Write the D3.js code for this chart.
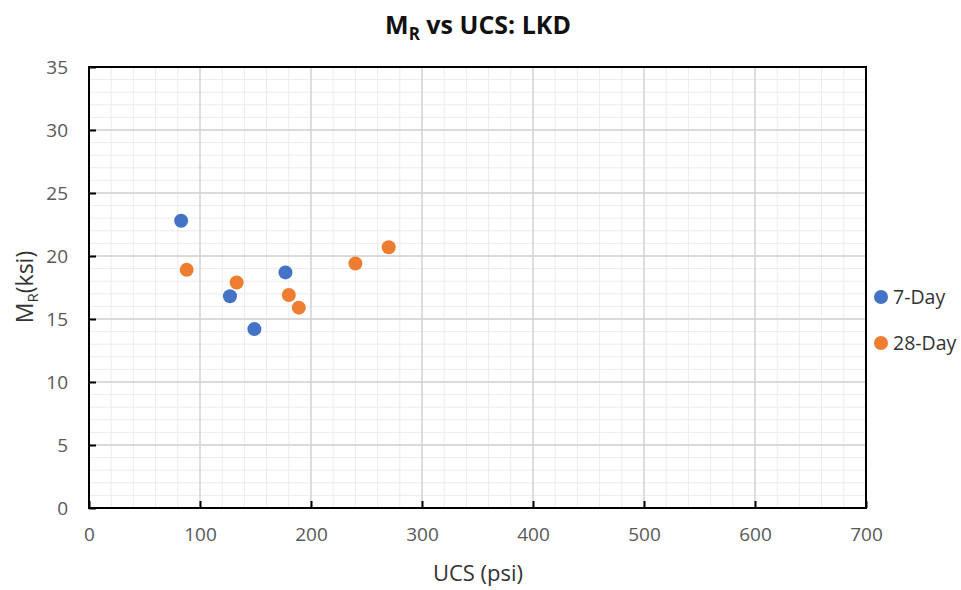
<!DOCTYPE html>
<html><head><meta charset="utf-8">
<script src="https://cdn.jsdelivr.net/npm/d3@7/dist/d3.min.js"></script>
<style>body{margin:0;background:#fff}svg{display:block}text{font-family:"Open Sans","Liberation Sans",sans-serif}</style>
</head><body><svg id="c" width="961" height="590"></svg>
<script>
const series = ["7-Day", "28-Day"];
const colors = ["#4472C4", "#ED7D31"];
const ucs7 = [83, 127, 149, 177];
const mr7 = [22.8, 16.8, 14.2, 18.7];
const ucs28 = [88, 133, 180, 189, 240, 270];
const mr28 = [18.9, 17.9, 16.9, 15.9, 19.4, 20.7];
const xTicks = [0, 100, 200, 300, 400, 500, 600, 700];
const yTicks = [0, 5, 10, 15, 20, 25, 30, 35];

const svg = d3.select("#c");
const L = 89, R = 866, T = 67, B = 508;
const x = d3.scaleLinear().domain([0, 700]).range([L, R]);
const y = d3.scaleLinear().domain([0, 35]).range([B, T]);

// minor grid
const g = svg.append("g");
g.selectAll(".mx").data(d3.range(0, 701, 20)).join("line")
  .attr("x1", d => x(d)).attr("x2", d => x(d)).attr("y1", T).attr("y2", B)
  .attr("stroke", "#ececec").attr("stroke-width", 1);
g.selectAll(".my").data(d3.range(0, 36, 1)).join("line")
  .attr("y1", d => y(d)).attr("y2", d => y(d)).attr("x1", L).attr("x2", R)
  .attr("stroke", "#ececec").attr("stroke-width", 1);
// major grid
g.selectAll(".Mx").data(xTicks).join("line")
  .attr("x1", d => x(d)).attr("x2", d => x(d)).attr("y1", T).attr("y2", B)
  .attr("stroke", "#d0d0d0").attr("stroke-width", 1.3);
g.selectAll(".My").data(yTicks).join("line")
  .attr("y1", d => y(d)).attr("y2", d => y(d)).attr("x1", L).attr("x2", R)
  .attr("stroke", "#d0d0d0").attr("stroke-width", 1.3);

// axes (ticks inward)
const xa = svg.append("g").attr("transform", `translate(0,${B})`)
  .call(d3.axisBottom(x).tickValues(xTicks).tickSize(-7).tickPadding(20).tickFormat(d3.format("d")));
const ya = svg.append("g").attr("transform", `translate(${L},0)`)
  .call(d3.axisLeft(y).tickValues(yTicks).tickSize(-7).tickPadding(21).tickFormat(d3.format("d")));
[xa, ya].forEach(a => {
  a.select(".domain").remove();
  a.selectAll(".tick line").attr("stroke", "#000").attr("stroke-width", 2);
  a.selectAll(".tick text").attr("fill", "#595959").attr("font-size", 19);
});
ya.selectAll(".tick text").attr("dy", "0.35em");

// border
svg.append("rect").attr("x", L).attr("y", T).attr("width", R - L).attr("height", B - T)
  .attr("fill", "none").attr("stroke", "#000").attr("stroke-width", 2);

// points
const data = [
  ucs7.map((u, i) => ({u, m: mr7[i], s: 0})),
  ucs28.map((u, i) => ({u, m: mr28[i], s: 1}))
].flat();
svg.append("g").selectAll("circle").data(data).join("circle")
  .attr("cx", d => x(d.u)).attr("cy", d => y(d.m)).attr("r", 7)
  .attr("fill", d => colors[d.s]);

// title
const t = svg.append("text").attr("x", 478).attr("y", 34).attr("text-anchor", "middle")
  .attr("font-size", 25).attr("font-weight", "bold").attr("fill", "#111");
t.append("tspan").text("M");
t.append("tspan").attr("font-size", 17).attr("dy", 6).text("R");
t.append("tspan").attr("dy", -6).text(" vs UCS: LKD");

// axis titles
svg.append("text").attr("x", 478).attr("y", 581).attr("text-anchor", "middle")
  .attr("font-size", 22).attr("fill", "#333").text("UCS (psi)");
const yt = svg.append("text").attr("transform", "translate(33,287) rotate(-90)")
  .attr("text-anchor", "middle").attr("font-size", 23).attr("fill", "#333");
yt.append("tspan").text("M");
yt.append("tspan").attr("font-size", 15).attr("dy", 5).text("R");
yt.append("tspan").attr("dy", -5).text("(ksi)");

// legend
const lg = svg.append("g").selectAll("g").data(series).join("g")
  .attr("transform", (d, i) => `translate(881,${297 + i * 46})`);
lg.append("circle").attr("r", 7).attr("fill", (d, i) => colors[i]);
lg.append("text").attr("x", 12).attr("dy", "0.35em").attr("font-size", 19.5)
  .attr("fill", "#333").text(d => d);
</script></body></html>
